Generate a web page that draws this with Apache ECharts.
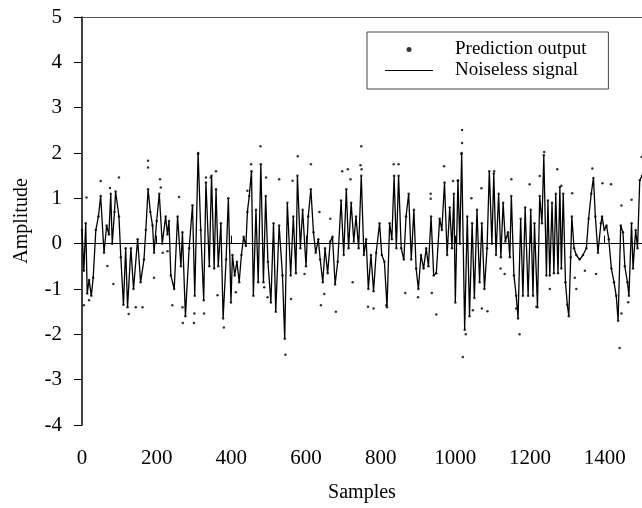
<!DOCTYPE html>
<html>
<head>
<meta charset="utf-8">
<script src="https://cdn.jsdelivr.net/npm/echarts@6/dist/echarts.min.js"></script>
<style>html,body{margin:0;padding:0;background:#fff}#c{width:642px;height:508px}</style>
</head>
<body>
<div id="c"></div>
<script>
// Noiseless signal (sample index, amplitude)
const signalX = [0,5,10,14,19,25,30,37,44,50,59,66,72,77,81,87,90,99,104,111,117,122,131,138,149,157,166,171,177,183,189,193,200,207,215,224,229,233,238,247,256,265,269,277,287,296,302,311,318,326,332,341,347,354,359,365,372,378,386,392,399,403,409,415,421,427,433,439,443,448,454,459,466,472,479,486,492,498,506,513,519,528,537,543,550,559,566,573,577,585,591,600,606,613,620,626,633,638,645,651,658,665,671,678,685,694,701,708,714,721,728,734,741,748,755,761,767,774,781,788,797,803,810,817,824,830,836,842,848,855,862,868,875,882,889,895,901,908,915,922,928,935,942,949,958,964,971,978,985,991,996,1000,1007,1012,1017,1025,1032,1038,1045,1051,1058,1065,1071,1078,1085,1091,1098,1103,1109,1116,1122,1128,1134,1141,1146,1150,1157,1163,1168,1175,1181,1187,1195,1202,1208,1212,1220,1226,1232,1237,1244,1248,1253,1259,1264,1269,1275,1280,1284,1289,1295,1300,1304,1309,1312,1318,1324,1333,1342,1351,1357,1364,1370,1375,1382,1390,1393,1399,1405,1411,1418,1425,1431,1436,1443,1449,1454,1461,1465,1472,1476,1483,1488,1494,1500];
const signalY = [0.3,-0.6,0.45,-1.1,-0.8,-1.15,-0.75,0.3,0.6,1.05,-0.2,0.4,0.2,1.1,0.0,0.7,1.15,0.6,-0.3,-1.35,-0.1,-1.4,-0.1,-1.0,0.1,-0.85,-0.35,0.3,1.2,0.7,0.4,-0.2,0.5,1.1,0.0,0.6,0.2,0.5,-0.7,-1.0,0.6,-0.5,0.25,-1.6,-0.1,0.85,-1.15,2.0,0.3,-1.25,1.35,-0.5,1.5,-0.55,1.2,-0.5,0.45,-1.65,-0.35,1.0,-1.3,-0.25,-0.7,-0.4,-0.85,-0.25,0.15,-0.05,0.7,1.05,1.6,-1.15,0.75,-0.85,1.75,-0.85,1.05,-0.4,-1.3,0.45,-1.5,0.4,-0.7,-2.1,0.9,-0.7,0.6,-0.65,1.5,-0.1,0.75,-0.5,0.6,1.2,0.25,-0.2,0.1,-0.35,-0.85,-0.1,-0.65,0.05,0.15,-0.9,-0.4,0.95,-0.25,1.2,-0.1,0.9,0.05,0.6,-0.1,1.5,-0.25,0.1,-1.0,-0.25,-1.05,-0.2,0.45,-0.25,-0.4,-1.4,0.45,0.1,1.5,-0.1,1.5,-0.1,-0.35,0.6,1.1,-0.35,0.75,-0.55,-1.0,-0.25,-0.55,-0.1,-0.5,0.6,-0.7,-0.65,0.55,0.3,1.35,-0.25,0.8,-0.1,1.1,-1.3,1.4,0.0,2.0,-1.9,0.6,-1.6,0.45,-1.2,0.75,-0.85,0.45,-1.0,-0.1,1.6,0.0,1.55,-0.25,1.1,-0.3,0.9,0.05,0.25,-0.3,1.05,-0.7,-1.15,-1.65,0.55,-1.15,0.8,-1.15,0.75,-1.15,0.45,-1.4,1.05,0.45,1.95,-0.7,0.95,-0.7,0.9,-0.65,1.1,-0.65,1.25,-0.55,1.1,-0.85,-1.35,-1.6,-0.3,0.6,-0.1,-0.25,-0.35,-0.25,-0.1,0.55,1.1,1.45,0.6,-0.2,0.45,0.6,0.3,0.4,0.1,-0.55,-0.85,-1.15,-1.7,0.4,0.25,-0.5,-0.85,-1.15,0.45,-0.55,0.3,-0.1,1.4,1.5];

// Prediction output points lying off the signal
const outlierX = [5,12,19,50,68,75,84,99,125,144,162,177,177,193,209,211,216,229,242,260,269,270,300,301,311,327,332,345,359,363,380,412,443,453,478,488,493,497,528,545,560,564,578,596,613,636,640,649,665,680,697,712,719,725,746,748,749,766,781,815,835,848,866,900,934,934,937,949,970,994,1007,1016,1018,1018,1020,1028,1043,1047,1070,1071,1086,1104,1121,1132,1150,1163,1172,1199,1217,1226,1238,1253,1273,1284,1313,1320,1324,1347,1367,1377,1394,1417,1440,1445,1445,1463,1472,1499];
const outlierY = [-1.36,1.02,-1.25,1.38,-0.49,1.23,-0.89,1.46,-1.55,-1.4,-1.4,1.83,1.68,-0.75,1.42,1.24,-0.2,-0.17,-1.36,1.03,-1.4,-1.75,-1.75,-1.54,1.98,-1.54,1.46,1.46,1.6,-1.14,-1.85,-1.07,1.17,1.75,2.15,-0.96,1.46,-1.18,1.42,-2.45,-1.22,1.39,1.93,-0.67,1.75,0.7,-1.36,-1.11,0.55,-1.5,1.6,1.64,1.42,-0.85,1.73,2.15,1.64,-1.39,-1.43,-1.36,1.75,1.75,-1.09,-1.18,1.1,0.99,-1.09,-1.56,1.71,1.38,1.38,1.98,2.22,2.51,-2.5,-2.0,1.0,-1.47,1.22,-1.43,-1.49,1.6,-0.55,-0.67,1.42,-1.43,-2.0,1.31,-1.39,1.49,2.02,-1.0,1.64,1.28,1.11,-0.75,-1.0,-0.6,1.66,-0.67,1.33,1.31,-2.3,0.84,-1.54,-1.29,0.97,1.91];

// Axis ticks
const xTicks = [0,200,400,600,800,1000,1200,1400];
const yTicks = [-4,-3,-2,-1,0,1,2,3,4,5];

const FONT = '"Liberation Serif","Times New Roman",serif';
const signalData = signalX.map((x, i) => [x, signalY[i]]);
const predictionData = signalData.concat(outlierX.map((x, i) => [x, outlierY[i]]));

const chart = echarts.init(document.getElementById('c'), null, {renderer: 'canvas'});
chart.setOption({
  animation: false,
  backgroundColor: '#fff',
  textStyle: {fontFamily: FONT, color: '#000'},
  grid: {left: 82, right: 0, top: 17, bottom: 76},
  legend: {
    left: 367, top: 32, orient: 'vertical',
    padding: [7, 22, 8, 18],
    itemGap: 0, itemWidth: 48, itemHeight: 5,
    borderColor: '#444', borderWidth: 1, backgroundColor: '#fff',
    textStyle: {fontFamily: FONT, fontSize: 19, color: '#000', lineHeight: 21, padding: [0, 0, 0, 17]},
    data: [
      {name: 'Prediction output', icon: 'circle', itemStyle: {color: '#000'}},
      {name: 'Noiseless signal', icon: 'path://M0,0H48V1H0Z', itemStyle: {color: '#000'}}
    ]
  },
  xAxis: [{
    type: 'value', min: xTicks[0], max: 1500, interval: xTicks[1] - xTicks[0],
    name: 'Samples', nameLocation: 'middle', nameGap: 58,
    nameTextStyle: {fontFamily: FONT, fontSize: 20, color: '#000'},
    axisLine: {lineStyle: {color: '#000', width: 1}},
    axisTick: {inside: true, length: 8, lineStyle: {color: '#000'}},
    axisLabel: {fontFamily: FONT, fontSize: 21, color: '#000', margin: 23, showMaxLabel: false,
      formatter: v => String(v)},
    splitLine: {show: false}
  }, {
    type: 'value', position: 'top', min: 0, max: 1500,
    axisLine: {show: true, lineStyle: {color: '#555', width: 1}},
    axisTick: {show: false}, axisLabel: {show: false}, splitLine: {show: false}
  }],
  yAxis: {
    type: 'value', min: yTicks[0], max: yTicks[yTicks.length - 1], interval: 1,
    name: 'Amplitude', nameLocation: 'middle', nameGap: 50, nameRotate: 90,
    nameTextStyle: {fontFamily: FONT, fontSize: 20, color: '#000'},
    axisLine: {show: true, lineStyle: {color: '#000', width: 1.5}},
    axisTick: {show: true, inside: false, length: 8, lineStyle: {color: '#000'}},
    axisLabel: {fontFamily: FONT, fontSize: 21, color: '#000', margin: 20},
    splitLine: {show: false}
  },
  series: [
    {
      name: 'Prediction output', type: 'scatter', data: predictionData,
      symbol: 'circle', symbolSize: 2.5, itemStyle: {color: '#000'}, z: 3
    },
    {
      name: 'Noiseless signal', type: 'line', data: signalData,
      symbol: 'none', lineStyle: {color: '#000', width: 1.3}, z: 2
    }
  ]
});
</script>
</body>
</html>
